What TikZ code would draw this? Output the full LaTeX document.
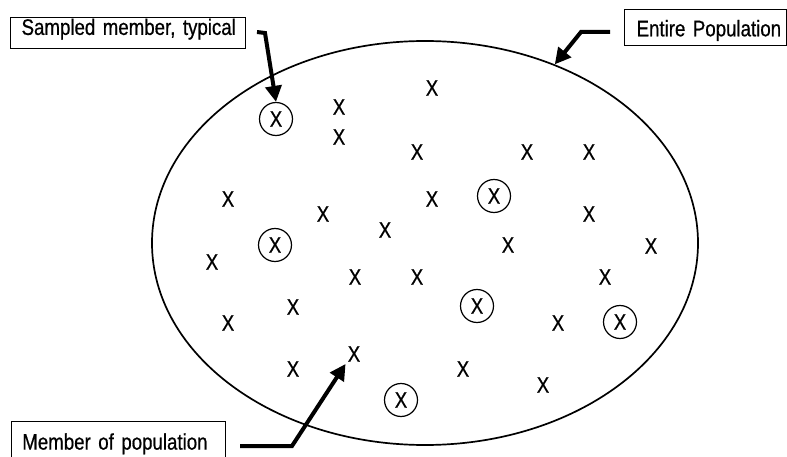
\documentclass[tikz,border=0pt]{standalone}
\usepackage{fontspec}
\setmainfont[FakeStretch=0.83,WordSpace=0.7,FakeBold=0.6]{Liberation Sans}
\usetikzlibrary{shapes.geometric,arrows.meta}
\tikzset{
  lbl/.style={font=\fontsize{22.5pt}{26pt}\selectfont},
  member/.style={lbl, inner sep=2pt},
  sampled/.style={lbl, draw, line width=1.2pt, circle, minimum size=33pt, inner sep=0pt},
  labelbox/.style={lbl, draw, line width=1.2pt, anchor=north west, inner ysep=0pt, inner xsep=11pt, align=left},
  bigarrow/.style={line width=4pt, -{Triangle[length=16pt,width=16pt]}},
}
\begin{document}
\begin{tikzpicture}[x=1pt,y=-1pt]
\useasboundingbox (0,0) rectangle (787,457);
% population
\node[draw, ellipse, line width=1.7pt, minimum width=546pt, minimum height=404pt, inner sep=0pt] (pop) at (425,243) {};
% plain members
\foreach \px/\py [count=\i] in {339/107,432/88,339/137,417/152,527/152,589/152,228/199,323/214,432/199,589/214,385/230,508/245,651/246,212/262,355/277,417/277,605/277,293/307,228/323,558/323,293/369,354/354,463/369,543/385}
  \node[member] (x\i) at (\px,\py) {X};
% sampled members
\node[sampled] (s1) at (276,119) {X};
\node[sampled] (s2) at (494,196) {X};
\node[sampled] (s3) at (275,245) {X};
\node[sampled] (s4) at (477,306) {X};
\node[sampled] (s5) at (620,322) {X};
\node[sampled] (s6) at (401,400) {X};
% label boxes
\node[labelbox, text width=213pt, text height=17.3pt, text depth=13.7pt] (lsamp) at (10,17) {\mbox{Sampled member, typical}};
\node[labelbox, inner xsep=12pt, text width=138pt, text height=26.7pt, text depth=9.3pt] (lpop) at (624,9) {\mbox{Entire Population}};
\node[labelbox, text width=192pt, text height=28pt, text depth=20pt] (lmem) at (10.7,421) {\mbox{Member of population}};
% arrows
\coordinate (a1) at (257,32);
\coordinate (a1b) at (265,33);
\draw[bigarrow] (a1) -- (a1b) -- (s1.north);
\coordinate (a2) at (610,32);
\coordinate (a2b) at (581,32);
\draw[bigarrow] (a2) -- (a2b) -- (pop.54.7);
\coordinate (a3) at (240,446);
\coordinate (a3b) at (292,446);
\draw[bigarrow] (a3) -- (a3b) -- (x22.south west);
\end{tikzpicture}
\end{document}
